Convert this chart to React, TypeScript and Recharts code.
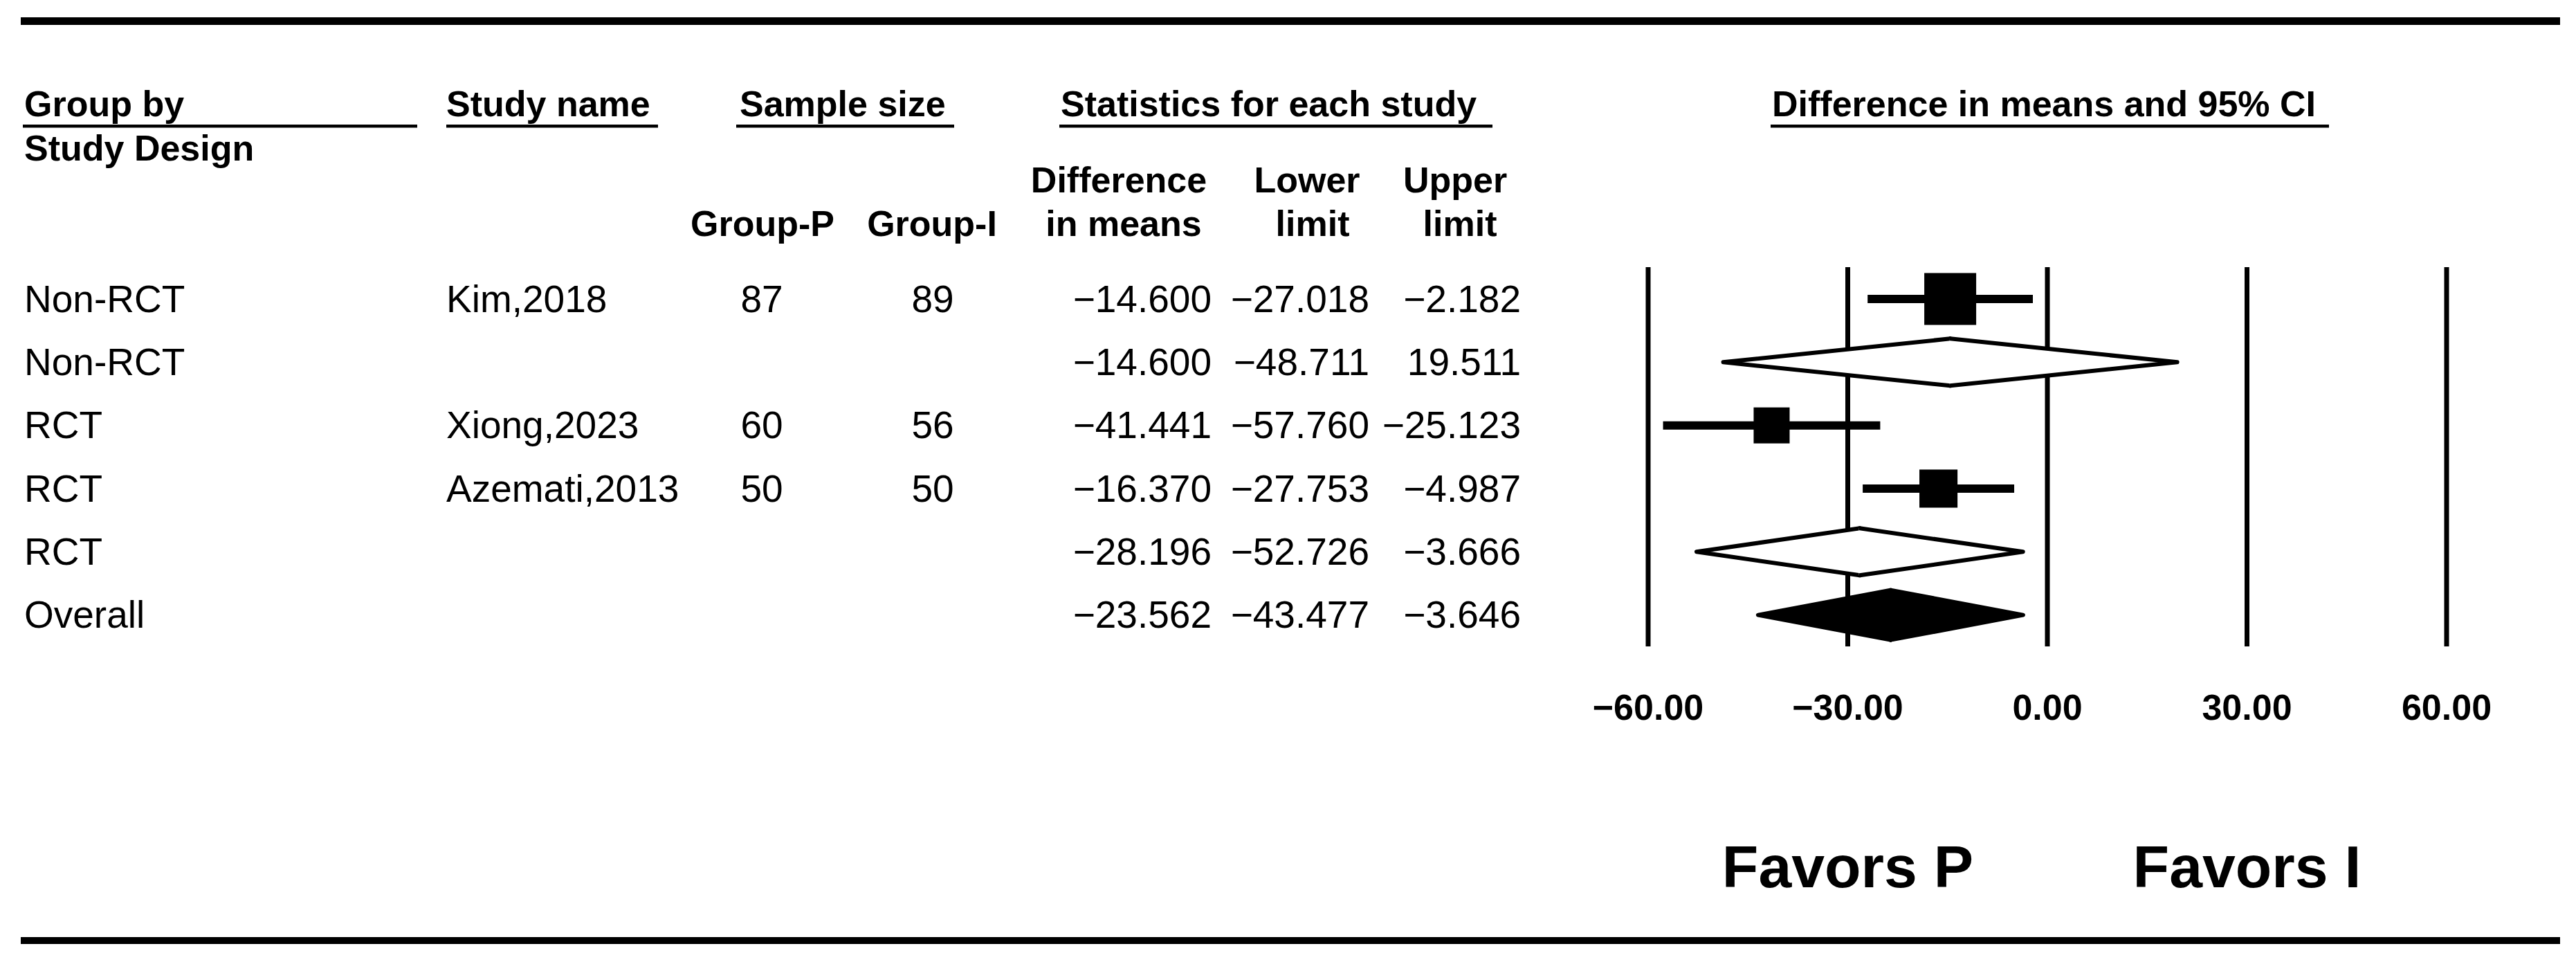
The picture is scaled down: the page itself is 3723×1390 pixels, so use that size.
import React from 'react';
import { ComposedChart, Bar, XAxis, YAxis, CartesianGrid } from 'recharts';

// forest plot values
const groups = ['Non-RCT', 'Non-RCT', 'RCT', 'RCT', 'RCT', 'Overall'];
const studies = ['Kim,2018', '', 'Xiong,2023', 'Azemati,2013', '', ''];
const rowKinds = ['study', 'subtotal', 'study', 'study', 'subtotal', 'overall'];
const groupP = [87, null, 60, 50, null, null];
const groupI = [89, null, 56, 50, null, null];
const diffs = [-14.6, -14.6, -41.441, -16.37, -28.196, -23.562];
const lowers = [-27.018, -48.711, -57.76, -27.753, -52.726, -43.477];
const uppers = [-2.182, 19.511, -25.123, -4.987, -3.666, -3.646];
const weights = [49.5, null, 23.8, 26.7, null, null];

const xTicks = [-60, -30, 0, 30, 60];
const favorTicks = [-30, 30];
const favorLabels = ['Favors P', 'Favors I'];

const FONT = '"Liberation Sans", Arial, sans-serif';
const BOX_SCALE = 10.66;

const rows = groups.map((g, i) => ({
  key: `r${i}`,
  group: g,
  study: studies[i],
  kind: rowKinds[i],
  nP: groupP[i],
  nI: groupI[i],
  diff: diffs[i],
  lower: lowers[i],
  upper: uppers[i],
  weight: weights[i],
  left: [lowers[i], diffs[i]],
  right: [diffs[i], uppers[i]],
}));

const fmt3 = (v: number) => (v < 0 ? '\u2212' : '') + Math.abs(v).toFixed(3);
const fmt2 = (v: number) => (v < 0 ? '\u2212' : '') + Math.abs(v).toFixed(2);

function RowTick(props: any) {
  const { y, payload } = props;
  const r = rows.find((d) => d.key === payload.value);
  if (!r) return null;
  const by = y + 19;
  const t = { fontFamily: FONT, fontSize: 55, fill: '#000' };
  return (
    <g>
      <text x={35} y={by} {...t}>{r.group}</text>
      <text x={645} y={by} {...t}>{r.study}</text>
      {r.nP != null && <text x={1101} y={by} textAnchor="middle" {...t}>{r.nP}</text>}
      {r.nI != null && <text x={1348} y={by} textAnchor="middle" {...t}>{r.nI}</text>}
      <text x={1751} y={by} textAnchor="end" {...t}>{fmt3(r.diff)}</text>
      <text x={1979} y={by} textAnchor="end" {...t}>{fmt3(r.lower)}</text>
      <text x={2198} y={by} textAnchor="end" {...t}>{fmt3(r.upper)}</text>
    </g>
  );
}

function ValueTick(props: any) {
  const { x, payload } = props;
  return (
    <text x={x} y={1040} textAnchor="middle" fontFamily={FONT} fontSize={52} fontWeight="bold" fill="#000">
      {fmt2(payload.value)}
    </text>
  );
}

function FavorTick(props: any) {
  const { x, payload } = props;
  const i = favorTicks.indexOf(payload.value);
  return (
    <text x={x} y={1282} textAnchor="middle" fontFamily={FONT} fontSize={86} fontWeight="bold" fill="#000">
      {favorLabels[i]}
    </text>
  );
}

// left half: lower -> mean, right half: mean -> upper
function makeHalf(side: 'left' | 'right') {
  return function HalfShape(props: any) {
    const { x, y, width, height, payload } = props;
    const cy = y + height / 2;
    const x0 = x;
    const x1 = x + width;
    if (payload.kind === 'study') {
      const s = BOX_SCALE * Math.sqrt(payload.weight);
      return (
        <g>
          <line x1={x0} x2={x1} y1={cy} y2={cy} stroke="#000" strokeWidth={12} />
          {side === 'left' && <rect x={x1 - s / 2} y={cy - s / 2} width={s} height={s} fill="#000" />}
        </g>
      );
    }
    const h = payload.kind === 'overall' ? 36 : 34;
    const tip = side === 'left' ? x0 : x1;
    const mid = side === 'left' ? x1 : x0;
    // overlap the two halves a little so no seam shows at the mean
    const over = side === 'left' ? mid + 1.5 : mid - 1.5;
    const fill = payload.kind === 'overall' ? '#000' : '#fff';
    return (
      <g>
        <polygon
          points={`${tip},${cy} ${mid},${cy - h} ${over},${cy - h} ${over},${cy + h} ${mid},${cy + h}`}
          fill={fill}
          stroke="none"
        />
        <polyline
          points={`${over},${cy - h} ${mid},${cy - h} ${tip},${cy} ${mid},${cy + h} ${over},${cy + h}`}
          fill="none"
          stroke="#000"
          strokeWidth={6}
          strokeLinejoin="round"
        />
      </g>
    );
  };
}

const LeftHalf = makeHalf('left');
const RightHalf = makeHalf('right');

function Headers() {
  const b = { fontFamily: FONT, fontSize: 52, fontWeight: 'bold' as const, fill: '#000' };
  return (
    <svg width={3723} height={1390} style={{ position: 'absolute', left: 0, top: 0, pointerEvents: 'none' }}>
      <rect x={30} y={25} width={3670} height={11} fill="#000" />
      <rect x={30} y={1354} width={3670} height={10} fill="#000" />

      <text x={35} y={168} {...b}>Group by</text>
      <rect x={33} y={180} width={570} height={4.5} fill="#000" />
      <text x={35} y={232} {...b}>Study Design</text>

      <text x={645} y={168} {...b}>Study name</text>
      <rect x={645} y={180} width={306} height={4.5} fill="#000" />

      <text x={1069} y={168} {...b}>Sample size</text>
      <rect x={1064} y={180} width={315} height={4.5} fill="#000" />

      <text x={1533} y={168} {...b}>Statistics for each study</text>
      <rect x={1531} y={180} width={626} height={4.5} fill="#000" />

      <text x={2561} y={168} {...b}>Difference in means and 95% CI</text>
      <rect x={2559} y={180} width={807} height={4.5} fill="#000" />

      <text x={1102} y={341} textAnchor="middle" {...b}>Group-P</text>
      <text x={1347} y={341} textAnchor="middle" {...b}>Group-I</text>
      <text x={1617} y={278} textAnchor="middle" {...b}>Difference</text>
      <text x={1624} y={341} textAnchor="middle" {...b}>in means</text>
      <text x={1889} y={278} textAnchor="middle" {...b}>Lower</text>
      <text x={1897} y={341} textAnchor="middle" {...b}>limit</text>
      <text x={2103} y={278} textAnchor="middle" {...b}>Upper</text>
      <text x={2110} y={341} textAnchor="middle" {...b}>limit</text>
    </svg>
  );
}

export default function App() {
  return (
    <div style={{ position: 'absolute', left: 0, top: 0, width: 3723, height: 1390, background: '#fff' }}>
      <ComposedChart
        width={3723}
        height={1390}
        data={rows}
        layout="vertical"
        margin={{ top: 386, right: 187, bottom: 156, left: 0 }}
        barSize={80}
        barGap={-80}
        barCategoryGap={0}
      >
        <CartesianGrid horizontal={false} stroke="#000" strokeWidth={7} />
        <XAxis
          type="number"
          dataKey="diff"
          domain={[-60, 60]}
          ticks={xTicks}
          allowDataOverflow
          axisLine={false}
          tickLine={false}
          height={100}
          tick={<ValueTick />}
        />
        <XAxis
          xAxisId="fav"
          type="number"
          domain={[-60, 60]}
          ticks={favorTicks}
          allowDataOverflow
          axisLine={false}
          tickLine={false}
          height={200}
          tick={<FavorTick />}
        />
        <YAxis
          type="category"
          dataKey="key"
          width={2382}
          axisLine={false}
          tickLine={false}
          interval={0}
          tick={<RowTick />}
        />
        <Bar dataKey="left" shape={<LeftHalf />} isAnimationActive={false} />
        <Bar dataKey="right" shape={<RightHalf />} isAnimationActive={false} />
      </ComposedChart>
      <Headers />
    </div>
  );
}
